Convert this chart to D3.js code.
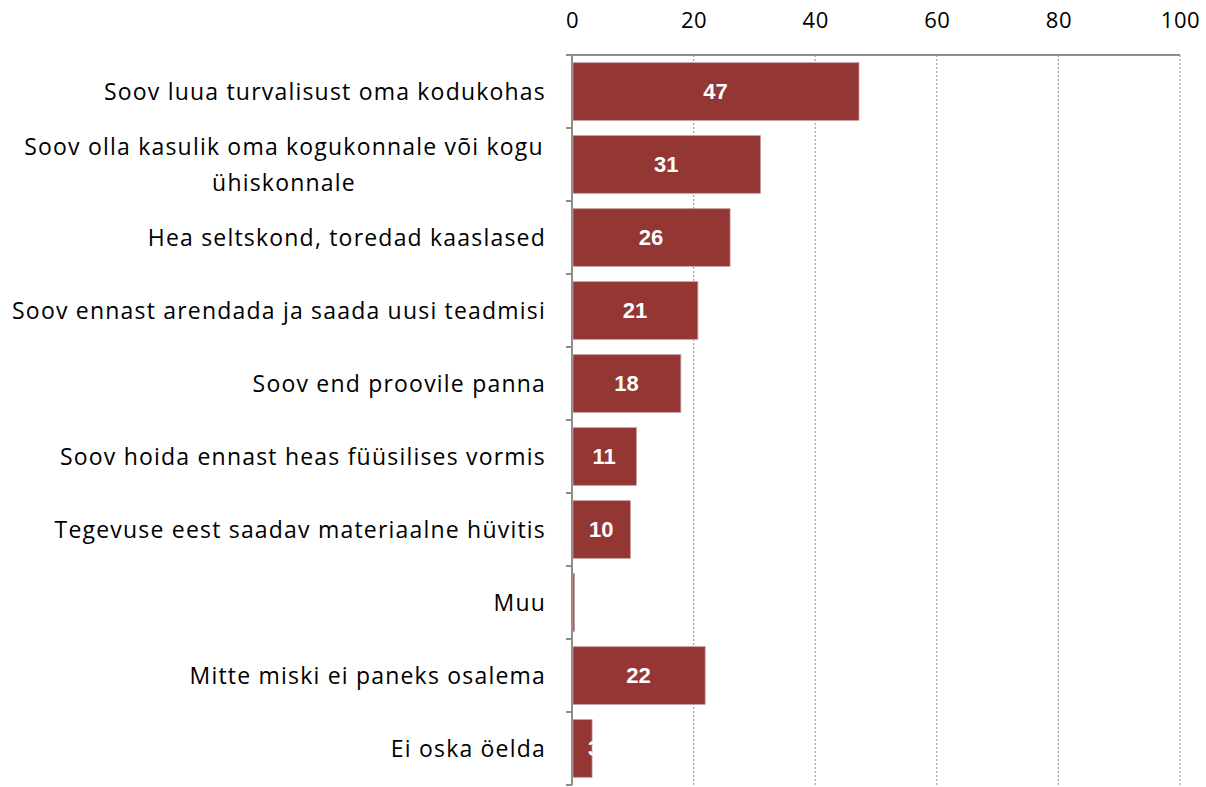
<!DOCTYPE html>
<html>
<head>
<meta charset="utf-8">
<script src="https://cdn.jsdelivr.net/npm/d3@7"></script>
<style>
  body { margin: 0; background: #fff; }
  svg { display: block; }
</style>
</head>
<body>
<svg width="1206" height="787"></svg>
<script>
var categories = [
  ["Soov luua turvalisust oma kodukohas"],
  ["Soov olla kasulik oma kogukonnale või kogu", "ühiskonnale"],
  ["Hea seltskond, toredad kaaslased"],
  ["Soov ennast arendada ja saada uusi teadmisi"],
  ["Soov end proovile panna"],
  ["Soov hoida ennast heas füüsilises vormis"],
  ["Tegevuse eest saadav materiaalne hüvitis"],
  ["Muu"],
  ["Mitte miski ei paneks osalema"],
  ["Ei oska öelda"]
]
var values = [47.2, 31.0, 26.0, 20.7, 17.9, 10.6, 9.6, 0.4, 21.9, 3.3]
var xTicks = [0, 20, 40, 60, 80, 100]

var margins = {top: 55, left: 572, right: 26, bottom: 2}
var width = 1206, height = 787

var svg = d3.select("svg")

var xScale = d3.scaleLinear()
               .domain([0, 100])
               .range([margins.left, width - margins.right])

var yScale = d3.scaleBand()
               .domain(d3.range(categories.length))
               .range([margins.top, height - margins.bottom])
               .paddingInner(0.21)
               .paddingOuter(0.105)

var step = yScale.step()
var y0 = margins.top, y1 = height - margins.bottom

// dotted gridlines
svg.append("g")
   .selectAll("line")
   .data(xTicks.slice(1))
   .enter()
   .append("line")
   .attr("x1", function(d){return xScale(d);})
   .attr("x2", function(d){return xScale(d);})
   .attr("y1", y0)
   .attr("y2", y1)
   .attr("stroke", "#a6a6a6")
   .attr("stroke-width", 1.3)
   .attr("stroke-dasharray", "2,2")

// top axis
var xAxis = d3.axisTop(xScale)
              .tickValues(xTicks)
              .tickSize(0)
              .tickPadding(27)

var gx = svg.append("g")
   .attr("transform", "translate(0," + y0 + ")")
   .call(xAxis)
gx.select(".domain").attr("stroke", "#8c8c8c").attr("stroke-width", 2)
  .attr("d", "M" + (margins.left - 6) + ",0H" + xScale(100))
gx.selectAll("text")
  .attr("font-family", "'Open Sans', sans-serif")
  .attr("font-size", 22)
  .attr("letter-spacing", 0.6)
  .attr("fill", "#000")

// left axis line and band ticks
svg.append("line")
   .attr("x1", margins.left).attr("x2", margins.left)
   .attr("y1", y0).attr("y2", y1)
   .attr("stroke", "#8c8c8c").attr("stroke-width", 2)

svg.append("g")
   .selectAll("line")
   .data(d3.range(categories.length + 1))
   .enter()
   .append("line")
   .attr("x1", margins.left - 6).attr("x2", margins.left)
   .attr("y1", function(i){return y0 + i * step;})
   .attr("y2", function(i){return y0 + i * step;})
   .attr("stroke", "#8c8c8c").attr("stroke-width", 2)

// bars
svg.append("g")
   .selectAll("rect")
   .data(values)
   .enter()
   .append("rect")
   .attr("x", xScale(0) + 1)
   .attr("y", function(d, i){return yScale(i);})
   .attr("width", function(d){return Math.max(0, xScale(d) - xScale(0) - 1);})
   .attr("height", yScale.bandwidth())
   .attr("fill", "#943634")
   .attr("stroke", "#c49a99")
   .attr("stroke-width", 0.8)

// value labels (white, so they vanish past the end of a short bar)
svg.append("g")
   .selectAll("text")
   .data(values)
   .enter()
   .filter(function(d){return d >= 1;})
   .append("text")
   .attr("x", function(d){return Math.max((xScale(0) + xScale(d)) / 2, xScale(0) + 22);})
   .attr("y", function(d){return yScale(values.indexOf(d)) + yScale.bandwidth() / 2;})
   .attr("dy", "0.36em")
   .attr("text-anchor", "middle")
   .attr("font-family", "'Liberation Sans', Arial, sans-serif")
   .attr("font-weight", "bold")
   .attr("font-size", 22)
   .attr("fill", "#fff")
   .text(function(d){return d3.format(".0f")(d);})

// category labels
var labels = svg.append("g")
   .selectAll("text")
   .data(categories)
   .enter()
   .append("text")
   .attr("y", function(d, i){return yScale(i) + yScale.bandwidth() / 2;})
   .attr("font-family", "'Open Sans', sans-serif")
   .attr("font-size", 23)
   .attr("letter-spacing", 1.2)
   .attr("fill", "#000")

labels.each(function(lines){
  var t = d3.select(this)
  var lh = 36
  var start = -(lines.length - 1) * lh / 2
  lines.forEach(function(s, k){
    var cx = lines.length > 1 ? 284 : 546
    t.append("tspan")
     .attr("x", cx)
     .attr("text-anchor", lines.length > 1 ? "middle" : "end")
     .attr("dy", k == 0 ? (start + 8) : lh)
     .text(s)
  })
})
</script>
</body>
</html>
